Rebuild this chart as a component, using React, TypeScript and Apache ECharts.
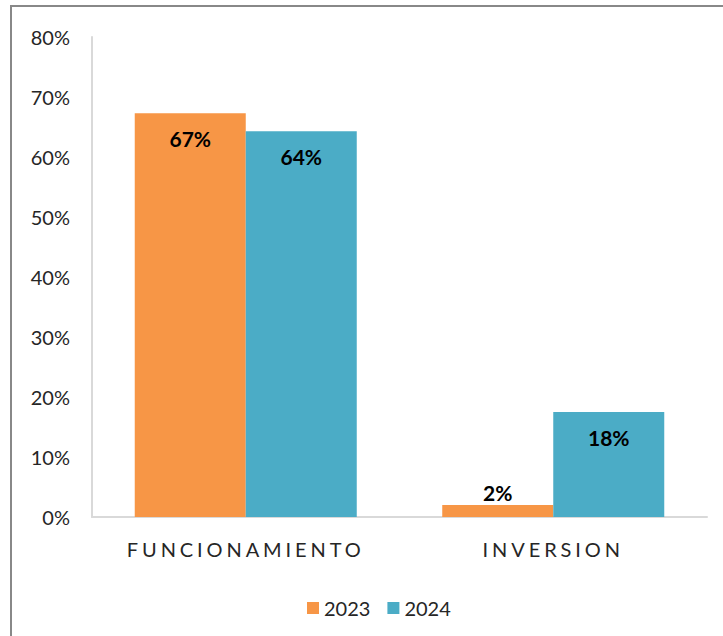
import React, { useEffect, useRef } from "react";
import * as echarts from "echarts";

const categories = ["FUNCIONAMIENTO", "INVERSION"];
const seriesNames = ["2023", "2024"];
const values2023 = [0.673, 0.02];
const values2024 = [0.643, 0.175];
const yTicks = [0, 0.1, 0.2, 0.3, 0.4, 0.5, 0.6, 0.7, 0.8];

const FONT = "Lato, 'Liberation Sans', sans-serif";

export default function App() {
  const ref = useRef<HTMLDivElement>(null);
  useEffect(() => {
    if (!ref.current) return;
    const chart = echarts.init(ref.current, undefined, { renderer: "svg" });
    const labelCommon = {
      show: true,
      formatter: (p: any) => Math.round(p.value * 100) + "%",
      color: "#000",
      fontWeight: "bold" as const,
      fontSize: 21,
      fontFamily: FONT,
    };
    chart.setOption({
      animation: false,
      textStyle: { fontFamily: FONT },
      graphic: [
        {
          type: "rect",
          shape: { x: 11, y: 6, width: 800, height: 700 },
          style: { fill: "none", stroke: "#888", lineWidth: 2 },
          silent: true,
        },
      ],
      grid: { left: 92, right: 16, top: 37, bottom: 119 },
      legend: {
        data: seriesNames,
        left: 302,
        top: 593,
        icon: "rect",
        itemWidth: 12,
        itemHeight: 12,
        itemGap: 17,
        textStyle: { fontSize: 20, color: "#262626", fontFamily: FONT },
      },
      xAxis: {
        type: "category",
        data: categories,
        axisLine: { lineStyle: { color: "#d9d9d9", width: 2 } },
        axisTick: { show: false },
        axisLabel: { fontSize: 20, color: "#262626", margin: 22, fontFamily: FONT },
      },
      yAxis: {
        type: "value",
        min: yTicks[0],
        max: yTicks[yTicks.length - 1],
        interval: 0.1,
        axisLine: { show: true, lineStyle: { color: "#d9d9d9", width: 2 } },
        axisTick: { show: false },
        splitLine: { show: false },
        axisLabel: {
          fontSize: 20,
          color: "#262626",
          margin: 22,
          fontFamily: FONT,
          formatter: (v: number) => Math.round(v * 100) + "%",
        },
      },
      series: [
        {
          name: seriesNames[0],
          type: "bar",
          data: values2023.map((v) => ({
            value: v,
            label: v < 0.05 ? { position: "top", distance: 2 } : { position: "insideTop", distance: 15 },
          })),
          itemStyle: { color: "#F79646" },
          barGap: "0%",
          barCategoryGap: "27.8%",
          label: { ...labelCommon, position: "insideTop", distance: 15 },
        },
        {
          name: seriesNames[1],
          type: "bar",
          data: values2024,
          itemStyle: { color: "#4BACC6" },
          barGap: "0%",
          barCategoryGap: "27.8%",
          label: { ...labelCommon, position: "insideTop", distance: 15 },
        },
      ],
    });
    const applySpacing = () => {
      const texts = ref.current?.querySelectorAll("text") || [];
      texts.forEach((t) => {
        if (categories.includes(t.textContent || "")) {
          (t as SVGTextElement).style.letterSpacing = "3.9px";
        }
      });
    };
    applySpacing();
    chart.on("finished", applySpacing);
    return () => chart.dispose();
  }, []);
  return (
    <div
      ref={ref}
      style={{ position: "fixed", left: 0, top: 0, width: 723, height: 636, background: "#fff" }}
    />
  );
}
